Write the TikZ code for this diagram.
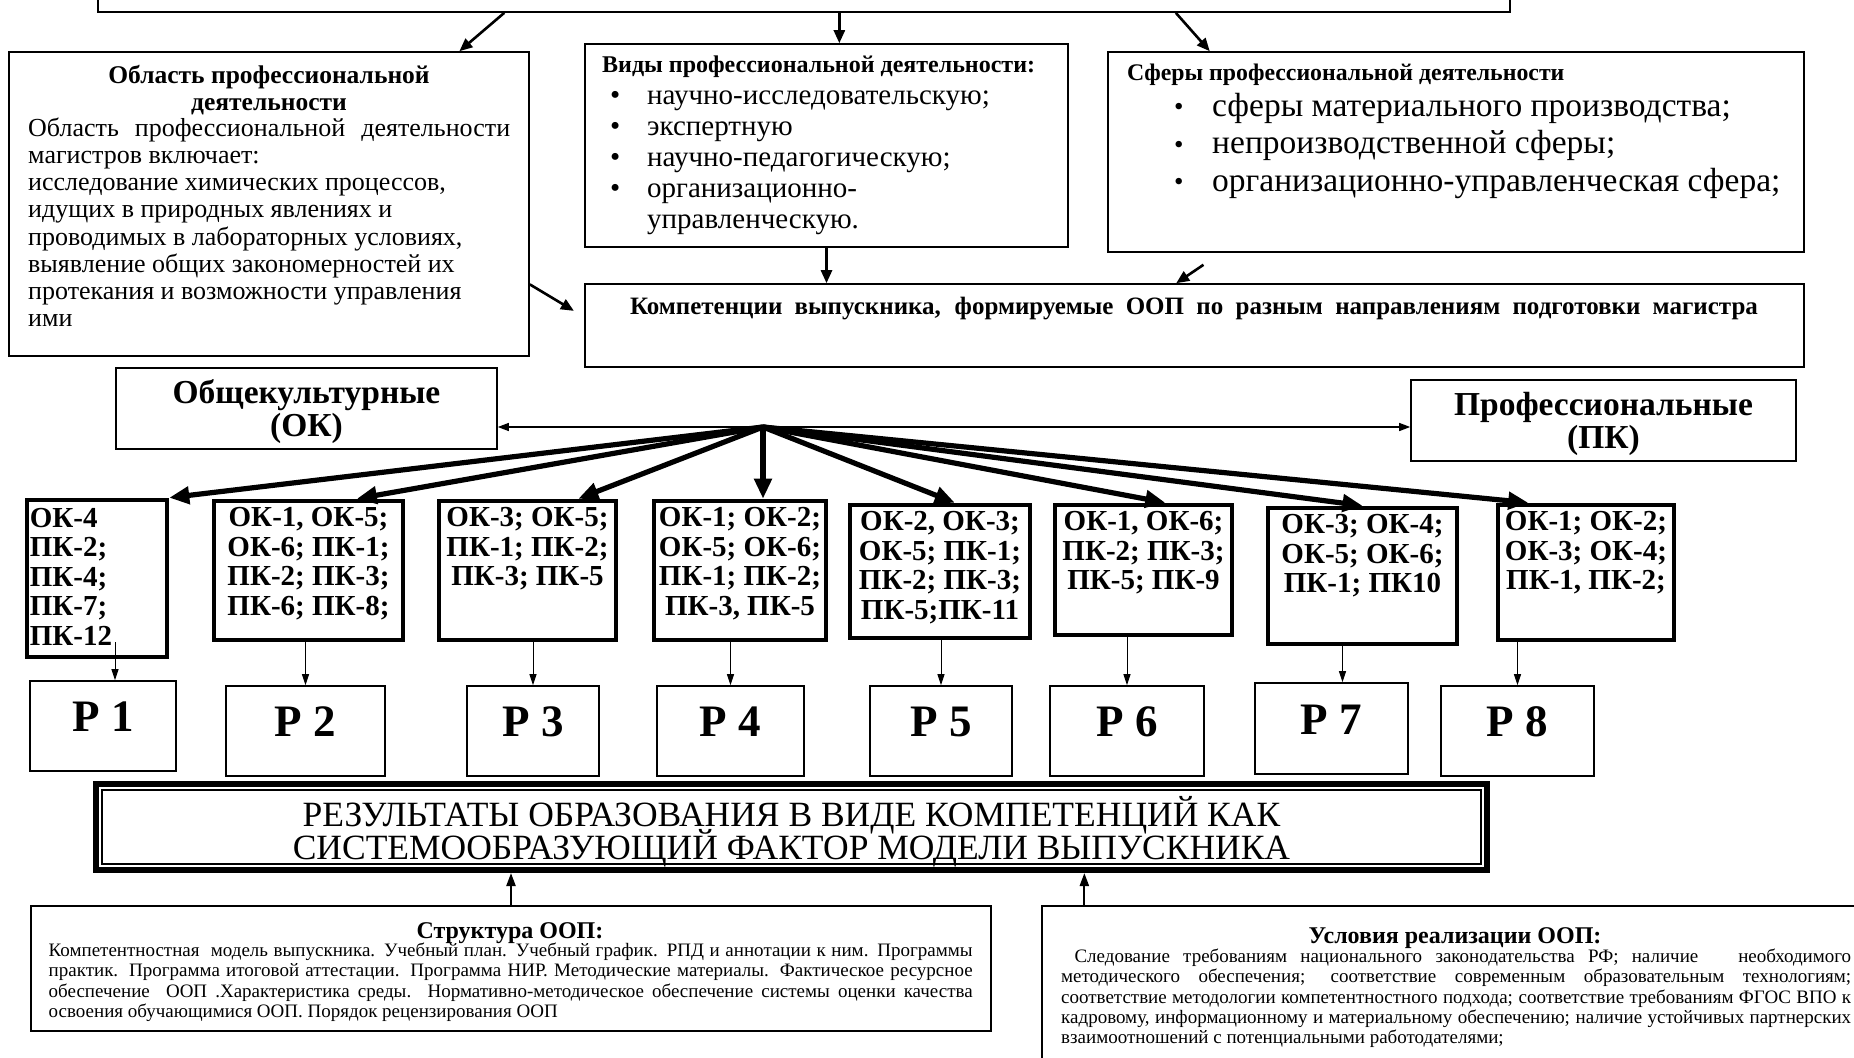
\documentclass[tikz,border=0pt]{standalone}
\usepackage{fontspec}
\setmainfont{Liberation Serif}
\usetikzlibrary{arrows.meta}
\usetikzlibrary{positioning}
\usetikzlibrary{calc}

\newcommand\fsz[2]{\fontsize{#1}{#2}\selectfont}
\newcommand\blt{\raisebox{0.5pt}{\fsz{27}{27}\textbullet}}

\tikzset{
  box/.style={draw=black,line width=1.6pt,inner sep=0pt},
  compbox/.style={draw=black,line width=4.6pt,inner sep=0pt},
  comptext/.style={inner sep=0pt,align=center,font={\bfseries\fsz{29}{29.5}}},
  pbox/.style={box,minimum height=90,font={\bfseries\fsz{45}{45}},text depth=18pt},
  medarrow/.style={line width=2.6pt,-{Triangle[length=13pt,width=11pt]}},
  fanarrow/.style={line width=5.2pt,-{Triangle[length=20pt,width=17pt]}},
  thinarrow/.style={line width=1pt,-{Triangle[length=11pt,width=7pt]}},
  bootharrow/.style={line width=1.3pt,{Triangle[length=11pt,width=8pt]}-{Triangle[length=11pt,width=8pt]}},
  uparrow/.style={line width=2.2pt,-{Triangle[length=13pt,width=9pt]}}
}

\begin{document}
\begin{tikzpicture}[x=1pt,y=-1pt]
\useasboundingbox (0,0) rectangle (1854,1057);

% upper row of boxes
\node[box,minimum width=1412,minimum height=42] (top) at (804,-9) {};
\node[box,minimum width=520,minimum height=304] (oblast) at (269,204) {};
\node[box,minimum width=483,minimum height=203] (vidy) at (826.5,145.5) {};
\node[box,minimum width=696,minimum height=200] (sfery) at (1456,152) {};
\node[box,minimum width=1219,minimum height=83] (komp) at (1194.5,325.5) {};

\node[anchor=north,align=center,inner sep=0pt,font={\bfseries\fsz{25.5}{27.2}}] (oblast-h) at (269,63.8) {\strut Область профессиональной\\деятельности};
\node[anchor=north west,align=left,inner sep=0pt,font={\fsz{26}{27.2}}] (oblast-b) at (28,117.1) {\strut\makebox[482pt][s]{Область профессиональной деятельности}\\магистров включает:\\исследование химических процессов,\\идущих в природных явлениях и\\проводимых в лабораторных условиях,\\выявление общих закономерностей их\\протекания и возможности управления\\ими};

\node[anchor=base west,inner sep=0pt,font={\bfseries\fsz{24}{25}}] (vidy-h) at (602,72.9) {Виды профессиональной деятельности:};
\node[anchor=north west,align=left,inner sep=0pt,font={\fsz{29}{31}}] (vidy-b) at (610,82.6) {\strut\makebox[37pt][l]{\textbullet}научно-исследовательскую;\\\makebox[37pt][l]{\textbullet}экспертную\\\makebox[37pt][l]{\textbullet}научно-педагогическую;\\\makebox[37pt][l]{\textbullet}организационно-\\\hspace*{37pt}управленческую.};

\node[anchor=base west,inner sep=0pt,font={\bfseries\fsz{23.8}{25}}] (sfery-h) at (1127,80) {Сферы профессиональной деятельности};
\node[anchor=north west,align=left,inner sep=0pt,font={\fsz{33.5}{37.5}}] (sfery-b) at (1174,90) {\strut\makebox[38pt][l]{\blt}сферы материального производства;\\\makebox[38pt][l]{\blt}непроизводственной сферы;\\\makebox[38pt][l]{\blt}организационно-управленческая сфера;};

\node[inner sep=0pt,font={\bfseries\fsz{25}{26}}] (komp-t) at (1194,308.5) {\makebox[1128pt][s]{Компетенции выпускника, формируемые ООП по разным направлениям подготовки магистра}};

\coordinate (a1) at ($(top.south west)!0.288!(top.south east)$);
\coordinate (a2) at ($(top.south west)!0.525!(top.south east)$);
\coordinate (a3) at ($(top.south west)!0.763!(top.south east)$);
\draw[medarrow] (a1) -- ($(oblast.north west)!0.865!(oblast.north east)$);
\draw[medarrow] (a2) -- (a2 |- vidy.north);
\draw[medarrow] (a3) -- ($(sfery.north west)!0.147!(sfery.north east)$);
\draw[medarrow,shorten >=12pt] ($(oblast.north east)!0.763!(oblast.south east)$) -- ($(komp.north west)!0.4!(komp.south west)$);
\draw[medarrow] (vidy.south) -- (vidy.south |- komp.north);
\draw[medarrow] ($(sfery.south west)!0.138!(sfery.south east)+(0,12)$) -- ($(komp.north west)!0.485!(komp.north east)$);

% OK / PK
\node[box,minimum width=381,minimum height=81,align=center,font={\bfseries\fsz{33.5}{33}}] (ok) at (306.5,408.5) {\rule{0pt}{30pt}Общекультурные\\(ОК)};
\node[box,minimum width=385,minimum height=81,align=center,font={\bfseries\fsz{33.5}{33}}] (pk) at (1603.5,420.5) {\rule{0pt}{30pt}Профессиональные\\(ПК)};
\coordinate (hub) at (763,427);
\draw[bootharrow] (ok.east |- hub) -- (pk.west |- hub);

% competence boxes
\node[compbox,minimum width=140,minimum height=157] (c1) at (97,578.5) {};
\node[compbox,minimum width=189,minimum height=139] (c2) at (308.5,570.5) {};
\node[compbox,minimum width=177,minimum height=139] (c3) at (527.5,570.5) {};
\node[compbox,minimum width=172,minimum height=139] (c4) at (740,570.5) {};
\node[compbox,minimum width=180,minimum height=133] (c5) at (940,571.5) {};
\node[compbox,minimum width=177,minimum height=130] (c6) at (1143.5,570) {};
\node[compbox,minimum width=189,minimum height=136] (c7) at (1362.5,576) {};
\node[compbox,minimum width=176,minimum height=135] (c8) at (1586,572.5) {};

\node[comptext,align=left,anchor=north west] (c1-t) at ($(c1.north west)+(5,8.5)$) {\strut ОК-4\\ПК-2;\\ПК-4;\\ПК-7;\\ПК-12};
\node[comptext,below=7pt of c2.north] (c2-t) {\strut ОК-1, ОК-5;\\ОК-6; ПК-1;\\ПК-2; ПК-3;\\ПК-6; ПК-8;};
\node[comptext,below=7pt of c3.north] (c3-t) {\strut ОК-3; ОК-5;\\ПК-1; ПК-2;\\ПК-3; ПК-5};
\node[comptext,below=7pt of c4.north] (c4-t) {\strut ОК-1; ОК-2;\\ОК-5; ОК-6;\\ПК-1; ПК-2;\\ПК-3, ПК-5};
\node[comptext,below=7pt of c5.north] (c5-t) {\strut ОК-2, ОК-3;\\ОК-5; ПК-1;\\ПК-2; ПК-3;\\ПК-5;ПК-11};
\node[comptext,below=7pt of c6.north] (c6-t) {\strut ОК-1, ОК-6;\\ПК-2; ПК-3;\\ПК-5; ПК-9};
\node[comptext,below=7pt of c7.north] (c7-t) {\strut ОК-3; ОК-4;\\ОК-5; ОК-6;\\ПК-1; ПК10};
\node[comptext,below=7pt of c8.north] (c8-t) {\strut ОК-1; ОК-2;\\ОК-3; ОК-4;\\ПК-1, ПК-2;};

\draw[fanarrow] (hub) -- (c1.north east);
\draw[fanarrow] (hub) -- ($(c2.north west)!0.75!(c2.north east)$);
\draw[fanarrow] (hub) -- ($(c3.north west)!0.78!(c3.north east)$);
\draw[fanarrow] (hub) -- (c4.north -| hub);
\draw[fanarrow] (hub) -- ($(c5.north west)!0.58!(c5.north east)$);
\draw[fanarrow] (hub) -- ($(c6.north west)!0.62!(c6.north east)$);
\draw[fanarrow] (hub) -- (c7.north);
\draw[fanarrow] (hub) -- ($(c8.north west)!0.18!(c8.north east)$);

% results P1..P8
\node[pbox,minimum width=146] (p1) at (103,726) {Р 1};
\node[pbox,minimum width=159] (p2) at (305.5,731) {Р 2};
\node[pbox,minimum width=132] (p3) at (533,731) {Р 3};
\node[pbox,minimum width=147] (p4) at (730.5,731) {Р 4};
\node[pbox,minimum width=142] (p5) at (941,731) {Р 5};
\node[pbox,minimum width=154] (p6) at (1127,731) {Р 6};
\node[pbox,minimum width=153,minimum height=91] (p7) at (1331.5,728.5) {Р 7};
\node[pbox,minimum width=153] (p8) at (1517.5,731) {Р 8};

\draw[thinarrow] ($(c1.south -| p1.north)+(12,-17)$) -- ($(p1.north)+(12,0)$);
\draw[thinarrow] (c2.south -| p2.north) -- (p2.north);
\draw[thinarrow] (c3.south -| p3.north) -- (p3.north);
\draw[thinarrow] (c4.south -| p4.north) -- (p4.north);
\draw[thinarrow] (c5.south -| p5.north) -- (p5.north);
\draw[thinarrow] (c6.south -| p6.north) -- (p6.north);
\draw[thinarrow] ($(c7.south -| p7.north)+(11,0)$) -- ($(p7.north)+(11,0)$);
\draw[thinarrow] (c8.south -| p8.north) -- (p8.north);

% result box
\node[box,line width=6pt,minimum width=1391,minimum height=86,align=center,font={\fsz{35.5}{33}\lineskiplimit=-100pt}] (res) at (791.5,827) {\rule{0pt}{40pt}РЕЗУЛЬТАТЫ ОБРАЗОВАНИЯ В ВИДЕ КОМПЕТЕНЦИЙ КАК\\СИСТЕМООБРАЗУЮЩИЙ ФАКТОР МОДЕЛИ ВЫПУСКНИКА};
\draw[line width=1.6pt] ([xshift=9pt,yshift=-9pt]res.north west) rectangle ([xshift=-9pt,yshift=9pt]res.south east);

% bottom boxes
\node[box,minimum width=960,minimum height=125] (struct) at (511,968.5) {};
\node[box,minimum width=828,minimum height=169] (usl) at (1456,990.5) {};

\node[inner sep=0pt,font={\bfseries\fsz{24}{24}}] (struct-h) at (510,933) {Структура ООП:};
\node[anchor=north west,align=left,inner sep=0pt,font={\fsz{19}{20.1}}] (struct-b) at (48.5,943) {\makebox[924pt][s]{Компетентностная\ \ модель выпускника. Учебный план. Учебный график. РПД и аннотации к ним. Программы}\\\makebox[924pt][s]{практик. Программа итоговой аттестации. Программа НИР. Методические материалы. Фактическое ресурсное}\\\makebox[924pt][s]{обеспечение\ \ ООП .Характеристика среды. Нормативно-методическое обеспечение системы оценки качества}\\освоения обучающимися ООП. Порядок рецензирования ООП};

\node[inner sep=0pt,font={\bfseries\fsz{24}{24}}] (usl-h) at (1455,938.5) {Условия реализации ООП:};
\node[anchor=north west,align=left,inner sep=0pt,font={\fsz{19}{20.1}}] (usl-b) at (1061,949) {\makebox[790pt][s]{\ Следование требованиям национального законодательства РФ; наличие\ \ \ необходимого}\\\makebox[790pt][s]{методического обеспечения; соответствие современным образовательным технологиям;}\\\makebox[790pt][s]{соответствие методологии компетентностного подхода; соответствие требованиям ФГОС ВПО к}\\\makebox[790pt][s]{кадровому, информационному и материальному обеспечению; наличие устойчивых партнерских}\\взаимоотношений с потенциальными работодателями;};

\draw[uparrow] (struct.north) -- (struct.north |- res.south);
\coordinate (b2) at ($(usl.north west)!0.052!(usl.north east)$);
\draw[uparrow] (b2) -- (b2 |- res.south);

\end{tikzpicture}
\end{document}
